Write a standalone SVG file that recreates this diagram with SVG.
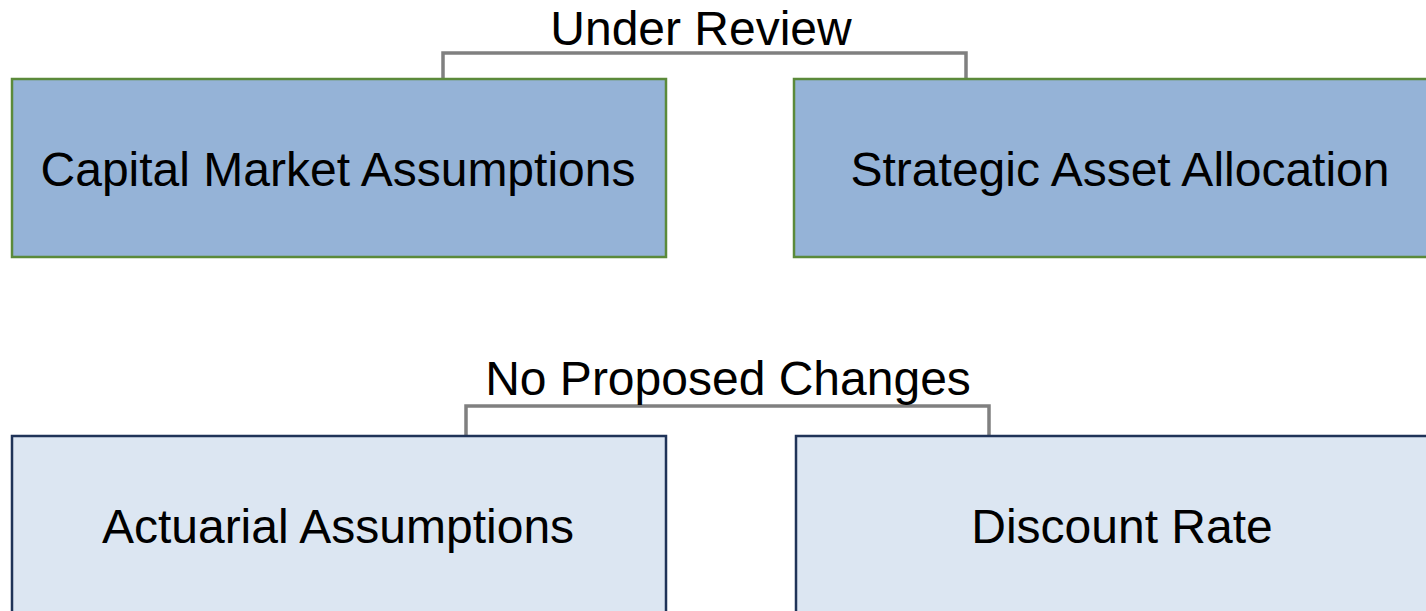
<svg xmlns="http://www.w3.org/2000/svg" width="1426" height="611" viewBox="0 0 1426 611">
<style>
text{font-family:"Liberation Sans",Arial,sans-serif;font-size:48px;fill:#000;text-anchor:middle}
.top{fill:#95b3d7;stroke:#5b8a3a;stroke-width:2.5}
.bot{fill:#dce6f2;stroke:#1f3358;stroke-width:2.5}
.br{fill:none;stroke:#808080;stroke-width:3.5}
</style>
<rect width="1426" height="611" fill="#fff"/>
<g id="connectors">
<path class="br" d="M443,82 V53 H966 V82"/>
<path class="br" d="M466,436 V406 H989 V436"/>
</g>
<g id="label-under-review"><text x="701" y="45">Under Review</text></g>
<g id="label-no-changes"><text x="728" y="395">No Proposed Changes</text></g>
<g id="cma"><rect class="top" x="12" y="79" width="654" height="178"/><text x="338" y="186">Capital Market Assumptions</text></g>
<g id="saa"><rect class="top" x="794" y="79" width="640" height="178"/><text x="1120" y="186">Strategic Asset Allocation</text></g>
<g id="aa"><rect class="bot" x="12" y="436" width="654" height="190"/><text x="338" y="543">Actuarial Assumptions</text></g>
<g id="dr"><rect class="bot" x="796" y="436" width="640" height="190"/><text x="1122" y="543">Discount Rate</text></g>
</svg>
